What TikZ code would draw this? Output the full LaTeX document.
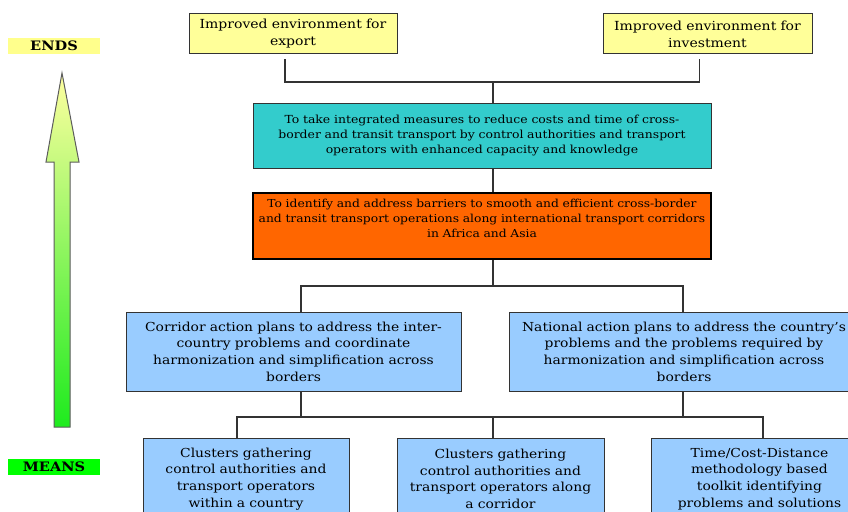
\documentclass[tikz,border=0pt]{standalone}
\usepackage{fontspec}
\setmainfont[FakeStretch=1.12]{DejaVu Serif}
\usepackage{tikz}
\usetikzlibrary{positioning, calc}
\definecolor{goalyellow}{RGB}{255, 255, 153}
\definecolor{measteal}{RGB}{51, 204, 204}
\definecolor{barrorange}{RGB}{255, 102, 0}
\definecolor{planblue}{RGB}{153, 204, 255}
\definecolor{framegray}{RGB}{51, 51, 51}
\definecolor{endsyellow}{RGB}{255, 255, 140}
\definecolor{meansgreen}{RGB}{0, 255, 0}
\definecolor{arrowtop}{RGB}{255, 255, 160}
\definecolor{arrowbot}{RGB}{30, 235, 30}
\tikzset{
    goalbox/.style = {rectangle, draw=framegray, fill=goalyellow, line width=1pt, inner xsep=4pt, inner ysep=2pt, align=center, font=\fontsize{12.5}{17}\selectfont},
    tealbox/.style = {rectangle, draw=framegray, fill=measteal, line width=1pt, inner xsep=4pt, inner ysep=2pt, align=center, font=\fontsize{11.1}{15}\selectfont},
    orangebox/.style = {rectangle, draw=black, fill=barrorange, line width=2pt, inner xsep=1pt, inner ysep=2pt, align=center, font=\fontsize{11}{15}\selectfont},
    planbox/.style = {rectangle, draw=framegray, fill=planblue, line width=1pt, inner xsep=4pt, inner ysep=2pt, align=center, font=\fontsize{12.4}{16.7}\selectfont},
    tag/.style = {rectangle, inner sep=0pt, minimum width=92pt, minimum height=16pt, font=\fontsize{13}{14}\selectfont\bfseries},
    line/.style = {draw=framegray, line width=1.2pt, -}
}
\begin{document}
\begin{tikzpicture}[x=1pt, y=-1pt]
\useasboundingbox (0,0) rectangle (848,511);
\clip (0,0) rectangle (848,511);
\fill[white] (0,0) rectangle (848,511);

\node (A) [goalbox, text width=200pt, minimum width=208pt, minimum height=40pt] at (293,34) {Improved environment for\\ export};
\node (B) [goalbox, text width=201pt, minimum width=209pt, minimum height=40pt] at (707.5,34) {Improved environment for\\ investment};
\node (C) [tealbox, text width=450pt, minimum width=458pt, minimum height=65pt] at (482,135.5) {To take integrated measures to reduce costs and time of cross-\\ border and transit transport by control authorities and transport\\ operators with enhanced capacity and knowledge};
\node (D) [orangebox, text width=456pt, minimum width=458pt, minimum height=66pt] at (482,226) {To identify and address barriers to smooth and efficient cross-border\\ and transit transport operations along international transport corridors\\ in Africa and Asia\\[1pt]\mbox{}};
\node (E) [planbox, text width=327pt, minimum width=335pt, minimum height=79pt] at (293.5,351.5) {Corridor action plans to address the inter-\\ country problems and coordinate\\ harmonization and simplification across\\ borders};
\node (F) [planbox, text width=342pt, minimum width=350pt, minimum height=79pt] at (684,351.5) {National action plans to address the country's\\ problems and the problems required by\\ harmonization and simplification across\\ borders};
\node (G) [planbox, text width=198pt, minimum width=206pt, minimum height=82pt] at (246,479) {Clusters gathering\\ control authorities and\\ transport operators\\ within a country};
\node (H) [planbox, text width=199pt, minimum width=207pt, minimum height=82pt] at (500.5,479) {Clusters gathering\\ control authorities and\\ transport operators along\\ a corridor};
\node (I) [planbox, text width=209pt, minimum width=217pt, minimum height=82pt] at (759.5,479) {Time/Cost-Distance\\ methodology based\\ toolkit identifying\\ problems and solutions};

\node (ends) [tag, fill=endsyellow] at (54,46) {ENDS};
\node (means) [tag, fill=meansgreen] at (54,466.5) {MEANS};
\shade[top color=arrowtop, bottom color=arrowbot, draw=framegray!80, line width=1pt] (54,427) -- (54,162) -- (46,162) -- (62,73) -- (79,162) -- (70,162) -- (70,427) -- cycle;

\coordinate (topjoin) at (493,82);
\coordinate (midjoin) at (493,286);
\coordinate (lowjoin) at (493,417);
\draw [line] ([xshift=-8pt,yshift=-5pt]A.south) |- (topjoin) -| ([xshift=-8pt,yshift=-5pt]B.south);
\draw [line] (topjoin) -- (topjoin |- C.north);
\draw [line] (topjoin |- C.south) -- (topjoin |- D.north);
\draw [line] (midjoin |- D.south) -- (midjoin);
\draw [line] ([xshift=7.5pt]E.north) |- (midjoin) -| ([xshift=-1pt]F.north);
\draw [line] ([xshift=7.5pt]E.south) -- ([xshift=7.5pt]E.south |- lowjoin);
\draw [line] ([xshift=-1pt]F.south) -- ([xshift=-1pt]F.south |- lowjoin);
\draw [line] ([xshift=-9pt]G.north) |- (lowjoin) -| ([xshift=3.5pt]I.north);
\draw [line] (lowjoin) -- (lowjoin |- H.north);
\end{tikzpicture}
\end{document}
